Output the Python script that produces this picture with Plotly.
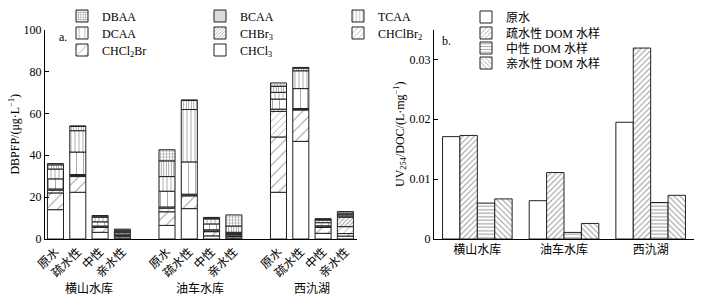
import plotly.graph_objects as go

# ---------------- data ----------------
groups = ["横山水库", "油车水库", "西氿湖"]
samples = ["原水", "疏水性", "中性", "亲水性"]

# DBPFP components (µg/L), order: group-major, samples within group
CHCl3   = [14.0, 22.3, 3.2, 0.5,   6.5, 14.5, 1.5, 0.5,   22.3, 46.6, 2.7, 1.4]
CHCl2Br = [8.0,  7.5,  2.4, 0.8,   6.5, 6.1,  2.0, 0.7,   26.4, 15.0, 2.8, 1.2]
CHClBr2 = [1.3,  0.5,  0.2, 0.4,   1.7, 0.3,  0.3, 0.3,   12.2, 0.2,  0.3, 3.3]
CHBr3   = [0.6,  0.5,  0.4, 0.7,   0.6, 0.5,  0.6, 0.6,   1.1,  0.5,  0.5, 4.5]
DCAA    = [4.8,  10.7, 2.0, 0.8,   7.5, 15.4, 2.8, 0.6,   4.8,  9.5,  1.5, 0.6]
TCAA    = [4.7,  10.2, 2.2, 0.5,   7.0, 25.0, 2.4, 0.5,   3.2,  8.5,  1.2, 0.6]
BCAA    = [2.0,  2.0,  0.5, 0.5,   7.5, 4.3,  0.4, 3.0,   2.9,  1.2,  0.4, 0.8]
DBAA    = [0.6,  0.3,  0.3, 0.5,   5.3, 0.3,  0.3, 5.3,   1.6,  0.4,  0.3, 0.7]

# UV254/DOC (L/mg)
uv_series = ["原水", "疏水性 DOM 水样", "中性 DOM 水样", "亲水性 DOM 水样"]
uv_raw    = [0.0171, 0.0064, 0.0195]
uv_hpo    = [0.0173, 0.0111, 0.0319]
uv_neu    = [0.0060, 0.0011, 0.0061]
uv_hpi    = [0.0067, 0.0026, 0.0073]

# ---------------- styling ----------------
FONT = "Times New Roman, Liberation Serif, Noto Sans CJK SC, serif"
W, H = 704, 301
def px(x): return x / W
def py(y): return (H - y) / H

components = [
    ("CHCl<sub>3</sub>",     CHCl3,   dict(shape="")),
    ("CHCl<sub>2</sub>Br",   CHCl2Br, dict(shape="/", size=8, solidity=0.12)),
    ("CHClBr<sub>2</sub>",   CHClBr2, dict(shape="/", size=5, solidity=0.15)),
    ("CHBr<sub>3</sub>",     CHBr3,   dict(shape="/", size=3, solidity=0.3)),
    ("DCAA",                 DCAA,    dict(shape="|", size=7, solidity=0.12)),
    ("TCAA",                 TCAA,    dict(shape="|", size=4, solidity=0.2)),
    ("BCAA",                 BCAA,    dict(shape="|", size=2.5, solidity=0.35)),
    ("DBAA",                 DBAA,    dict(shape="+", size=3, solidity=0.35)),
]
# legend rows (left panel)
legend_of = {"DBAA": "legend", "BCAA": "legend", "TCAA": "legend",
             "DCAA": "legend2", "CHBr<sub>3</sub>": "legend2", "CHClBr<sub>2</sub>": "legend2",
             "CHCl<sub>2</sub>Br": "legend3", "CHCl<sub>3</sub>": "legend3"}
rank_of = {"DBAA": 1, "BCAA": 2, "TCAA": 3, "DCAA": 1, "CHBr<sub>3</sub>": 2,
           "CHClBr<sub>2</sub>": 3, "CHCl<sub>2</sub>Br": 1, "CHCl<sub>3</sub>": 2}

# bar positions: 4 bars per group, one empty slot between groups
xpos = [g * 5 + i for g in range(len(groups)) for i in range(len(samples))]
xlabels = [s for g in groups for s in samples]

fig = go.Figure()
base = [0.0] * len(xpos)
for name, vals, pat in components:
    fig.add_trace(go.Bar(
        x=xpos, y=vals, base=list(base), name=name,
        width=0.72, offset=-0.36,
        marker=dict(color="white", line=dict(color="#222", width=1),
                    pattern=dict(fgcolor="#333", bgcolor="white", **pat)),
        legend=legend_of[name], legendrank=rank_of[name],
        xaxis="x", yaxis="y",
    ))
    base = [b + v for b, v in zip(base, vals)]

uv_pats = [dict(shape=""), dict(shape="/", size=4, solidity=0.25),
           dict(shape="-", size=3.5, solidity=0.3), dict(shape="\\", size=4, solidity=0.25)]
uv_vals = [uv_raw, uv_hpo, uv_neu, uv_hpi]
for k, (name, vals, pat) in enumerate(zip(uv_series, uv_vals, uv_pats)):
    fig.add_trace(go.Bar(
        x=groups, y=vals, name=name, offsetgroup=str(k),
        marker=dict(color="white", line=dict(color="#222", width=1),
                    pattern=dict(fgcolor="#333", bgcolor="white", **pat)),
        legend=f"legend{4 + k}",
        xaxis="x2", yaxis="y2",
    ))

ydom = [py(239), py(29.5)]
axis_common = dict(showline=True, linecolor="black", linewidth=1, showgrid=False,
                   zeroline=False, ticks="inside", ticklen=4, tickcolor="black", automargin=False,
                   tickfont=dict(family=FONT, size=12, color="black"))

leg_common = dict(orientation="h", xanchor="left", yanchor="middle", bgcolor="rgba(0,0,0,0)",
                  font=dict(family=FONT, size=12, color="black"), entrywidth=93,
                  entrywidthmode="pixels", traceorder="normal", itemwidth=30)

fig.update_layout(
    width=W, height=H, margin=dict(l=0, r=0, t=0, b=0, autoexpand=False),
    paper_bgcolor="white", plot_bgcolor="white",
    barmode="group", bargap=0.197, bargroupgap=0,
    font=dict(family=FONT, size=12, color="black"),
    xaxis=dict(domain=[px(45), px(357)], range=[-0.47, 13.52], tickmode="array",
               tickvals=xpos, ticktext=xlabels, tickangle=-45, automargin=False,
               showline=True, linecolor="black", showgrid=False, zeroline=False, ticks="",
               tickfont=dict(family=FONT, size=12, color="black")),
    yaxis=dict(domain=ydom, range=[0, 100], dtick=20,
               title=dict(text="DBPFP/(μg·L<sup>−1</sup>)", standoff=1,
                          font=dict(family=FONT, size=12)), **axis_common),
    xaxis2=dict(domain=[px(434), px(694)], anchor="y2", showline=True, linecolor="black",
                showgrid=False, ticks="", automargin=False,
                tickfont=dict(family=FONT, size=12, color="black")),
    yaxis2=dict(domain=ydom, anchor="x2", range=[0, 0.035], tickvals=[0, 0.01, 0.02, 0.03],
                ticktext=["0", "0.01", "0.02", "0.03"],
                title=dict(text="UV<sub>254</sub>/DOC/(L·mg<sup>−1</sup>)", standoff=2,
                           font=dict(family=FONT, size=12)), **axis_common),
    legend=dict(x=px(62), y=py(16), **leg_common),
    legend2=dict(x=px(62), y=py(33), **leg_common),
    legend3=dict(x=px(62), y=py(50), **leg_common),
)
for k, yy in enumerate([17, 33, 48, 63]):
    fig.update_layout({f"legend{4 + k}": dict(x=px(466), y=py(yy), **leg_common)})

# group labels under left panel
for g, name in enumerate(groups):
    fig.add_annotation(x=g * 5 + 1.5, xref="x", y=py(288), yref="paper", yanchor="middle",
                       text=name, showarrow=False,
                       font=dict(family=FONT, size=12, color="black"))
fig.add_annotation(x=px(57), y=py(28), xref="paper", yref="paper", text="a.",
                   showarrow=False, font=dict(family=FONT, size=12))
fig.add_annotation(x=px(447), y=py(32), xref="paper", yref="paper", text="b.",
                   showarrow=False, font=dict(family=FONT, size=12))

fig.write_html("out.html", config={"displayModeBar": False},
               post_script="document.body.style.margin='0';document.body.style.overflow='hidden';")
